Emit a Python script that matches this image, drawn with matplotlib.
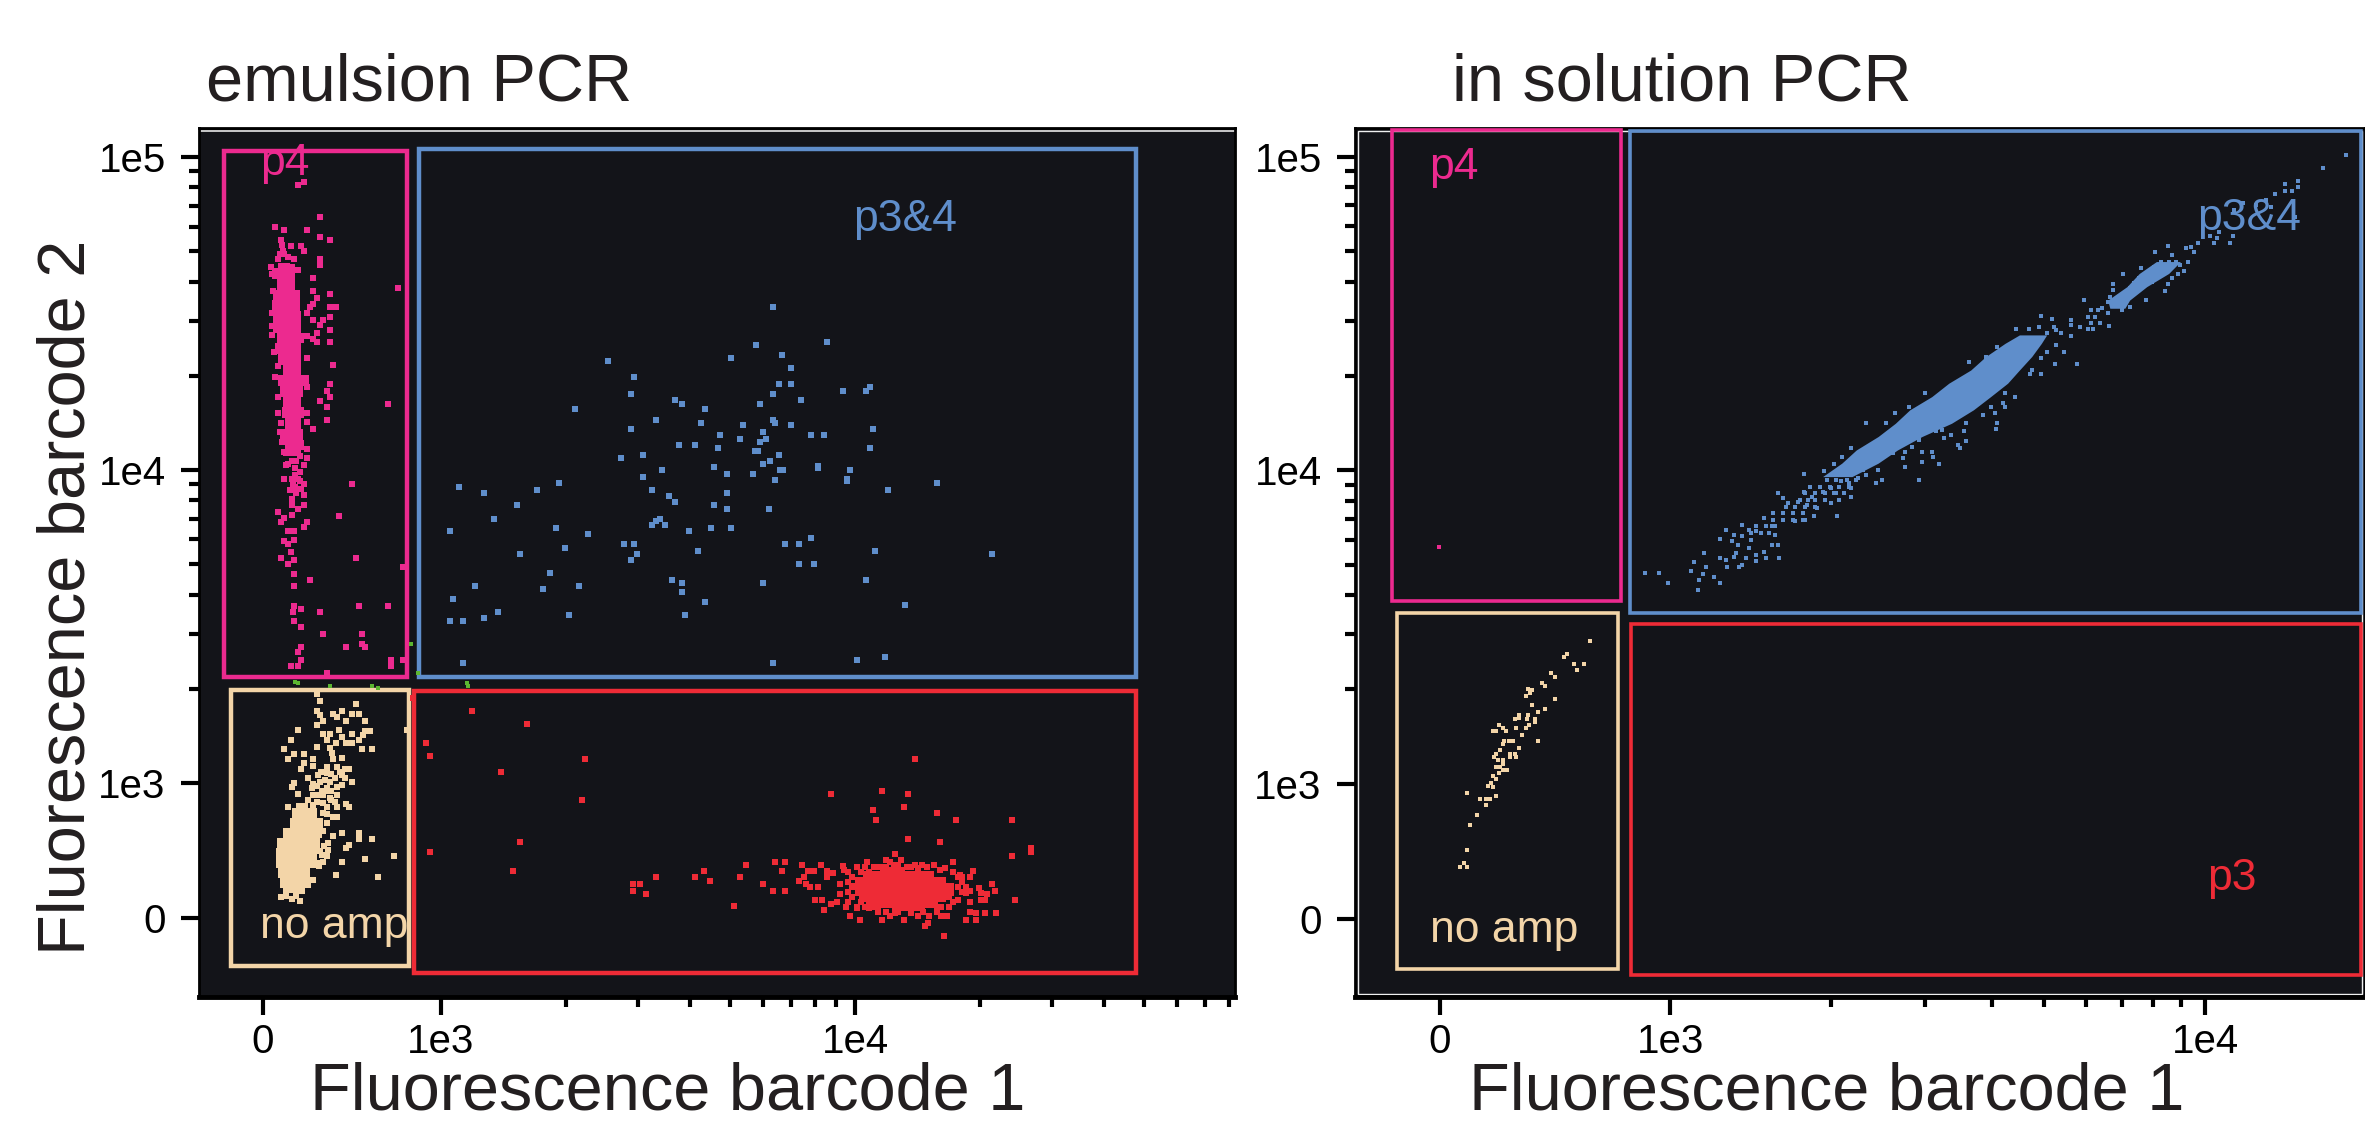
import numpy as np
import matplotlib
matplotlib.use("Agg")
import matplotlib.pyplot as plt
from matplotlib.patches import Rectangle

plt.rcParams['font.family'] = ['Liberation Sans', 'DejaVu Sans']

# All values are on the display (biexponential) scale: log10(intensity) above 1e3,
# linear from 1e3 down to "0".
tick_labels = ['0', '1e3', '1e4', '1e5']
ZERO = 2.57
x_major_values = [ZERO, 3, 4]
y_major_values = [ZERO, 3, 4, 5]
minor_values = [np.log10(m * d) for d in (1e3, 1e4) for m in range(2, 10)]

# --- emulsion PCR ---
em_p34 = [(3.801,4.520),(3.933,4.408),(3.761,4.398),(3.701,4.358),(3.824,4.367),(3.403,4.347),(3.846,4.327),(3.466,4.297),
(3.817,4.275),(3.846,4.275),(4.036,4.266),(4.027,4.253),(3.972,4.253),(3.458,4.244),(3.801,4.244),(3.870,4.224),(3.566,4.224),
(3.582,4.212),(3.770,4.212),(3.324,4.194),(3.637,4.194),(3.519,4.161),(3.801,4.161),(3.808,4.151),(3.629,4.151),(3.729,4.143),
(3.846,4.143),(3.458,4.131),(4.043,4.131),(3.778,4.122),(3.675,4.111),(3.893,4.111),(3.926,4.111),(3.722,4.100),(3.785,4.100),
(3.770,4.091),(3.574,4.080),(3.613,4.080),(3.669,4.071),(4.036,4.071),(3.759,4.060),(3.765,4.060),(3.488,4.049),(3.817,4.049),(3.434,4.040),
(3.794,4.030),(3.778,4.018),(3.910,4.014),(3.910,4.006),(3.659,4.009),(3.535,3.999),(3.819,3.999),(3.825,3.999),(3.988,3.999),(3.691,3.987),
(3.754,3.987),(3.488,3.978),(3.980,3.971),(3.980,3.965),(3.808,3.968),(3.284,3.957),(4.199,3.957),(3.044,3.947),(3.231,3.937),
(3.510,3.937),(4.081,3.937),(3.105,3.926),(3.691,3.926),(3.551,3.917),(3.566,3.897),(3.184,3.888),(3.659,3.888),(3.691,3.876),
(3.793,3.876),(3.129,3.845),(3.528,3.845),(3.519,3.836),(3.510,3.825),(3.542,3.825),(3.278,3.814),(3.652,3.814),(3.701,3.814),
(3.021,3.805),(3.598,3.805),(3.356,3.795),(3.893,3.783),(3.441,3.763),(3.466,3.763),(3.832,3.763),(3.864,3.763),(3.300,3.752),
(3.622,3.742),(4.049,3.742),(3.191,3.732),(3.473,3.732),(4.331,3.732),(3.458,3.711),(3.864,3.701),(3.901,3.701),(3.263,3.670),
(3.559,3.650),(4.027,3.650),(3.582,3.639),(3.778,3.639),(3.082,3.628),(3.333,3.628),(3.247,3.619),(3.582,3.609),(3.028,3.589),
(3.637,3.579),(4.120,3.568),(3.137,3.547),(3.310,3.538),(3.589,3.538),(3.105,3.528),(3.021,3.516),(3.052,3.516),(4.073,3.404),
(4.004,3.393),(3.052,3.383),(3.801,3.383)]

em_p4_core_y = [4.662,4.628,4.593,4.559,4.525,4.491,4.456,4.422,4.388,4.354,4.320,4.285,4.251,4.217,4.183,4.148,4.114,4.080,4.046]
em_p4_core_lo = [2.607,2.591,2.603,2.595,2.593,2.595,2.595,2.603,2.599,2.607,2.618,2.607,2.611,2.618,2.615,2.623,2.611,2.623,2.619]
em_p4_core_hi = [2.635,2.647,2.647,2.659,2.659,2.661,2.663,2.669,2.663,2.663,2.661,2.682,2.666,2.663,2.668,2.663,2.666,2.668,2.663]
em_p4 = [(2.654,4.911),(2.668,4.922),(2.708,4.808),(2.598,4.778),(2.622,4.767),(2.677,4.767),(2.708,4.746),(2.731,4.736),(2.613,4.736),
(2.615,4.719),(2.638,4.716),(2.662,4.715),(2.668,4.701),(2.708,4.674),(2.708,4.654),(2.645,4.674),(2.692,4.613),(2.895,4.582),
(2.692,4.572),(2.731,4.561),(2.701,4.551),(2.692,4.531),(2.684,4.520),(2.731,4.520),(2.747,4.520),(2.677,4.501),(2.731,4.489),
(2.692,4.479),(2.715,4.479),(2.708,4.462),(2.731,4.448),(2.701,4.438),(2.677,4.429),(2.692,4.420),(2.701,4.408),(2.731,4.408),
(2.677,4.357),(2.738,4.337),(2.598,4.297),(2.677,4.266),(2.731,4.274),(2.724,4.254),(2.731,4.234),(2.708,4.222),(2.724,4.203),
(2.873,4.212),(2.677,4.183),(2.724,4.161),(2.677,4.152),(2.692,4.131),(2.677,4.068),(2.677,4.040),(2.668,4.017),(2.785,3.955),
(2.622,3.971),(2.668,3.954),(2.651,3.926),(2.639,3.909),(2.639,3.888),(2.668,3.888),(2.655,3.874),(2.639,3.857),(2.606,3.865),
(2.622,3.846),(2.613,3.835),(2.754,3.854),(2.677,3.835),(2.668,3.817),(2.631,3.804),(2.646,3.804),(2.646,3.777),(2.622,3.772),
(2.631,3.763),(2.794,3.720),(2.638,3.738),(2.613,3.720),(2.646,3.711),(2.631,3.701),(2.909,3.691),(2.646,3.669),(2.684,3.649),
(2.646,3.628),(2.646,3.566),(2.803,3.566),(2.873,3.566),(2.662,3.556),(2.642,3.547),(2.708,3.547),(2.646,3.516),(2.662,3.497),
(2.715,3.475),(2.810,3.475),(2.662,3.435),(2.654,3.418),(2.771,3.435),(2.810,3.443),(2.817,3.435),(2.879,3.393),(2.909,3.393),
(2.662,3.393),(2.638,3.374),(2.654,3.374),(2.879,3.374),(2.724,3.352),(2.589,4.650),(2.591,4.628),(2.595,4.571),(2.591,4.502),
(2.591,4.459),(2.593,4.430),(2.597,4.377),(2.607,4.331),(2.607,4.234),(2.606,4.183),(2.613,4.151),(2.611,4.120),(2.615,4.091),
(2.621,4.057),(2.651,4.029),(2.659,4.046),(2.647,4.006),(2.659,3.994),(2.659,3.966),(2.643,3.954),(2.635,3.937),(2.668,3.920),
(2.610,4.690),(2.622,4.690),(2.630,4.680),(2.618,4.700),(2.606,4.675),(2.640,4.650),(2.655,4.640),(2.648,3.985),(2.655,3.970),
(2.640,3.972),(2.648,3.945),(2.662,3.940),(2.630,4.020),(2.640,4.030),(2.625,4.015)]

em_other = [(2.647,3.324),(2.655,3.321),(2.732,3.310),(2.833,3.310),(2.849,3.302),(3.062,3.318),(3.066,3.310),(2.945,3.350),(2.927,3.444)]

em_amp_core_y = [2.935,2.903,2.871,2.839,2.807,2.775,2.743,2.711,2.679,2.647]
em_amp_core_lo = [2.651,2.639,2.635,2.618,2.603,2.602,2.602,2.607,2.611,2.619]
em_amp_core_hi = [2.680,2.700,2.716,2.712,2.708,2.700,2.700,2.684,2.676,2.663]
em_amp = [(2.701,3.283),(2.708,3.261),(2.794,3.251),(2.701,3.231),(2.708,3.217),(2.762,3.231),(2.786,3.220),(2.803,3.220),(2.740,3.220),
(2.750,3.212),(2.716,3.199),(2.771,3.199),(2.817,3.199),(2.701,3.185),(2.654,3.169),(2.754,3.169),(2.817,3.167),(2.829,3.167),
(2.716,3.157),(2.732,3.157),(2.786,3.157),(2.811,3.153),(2.760,3.148),(2.638,3.137),(2.724,3.137),(2.746,3.127),(2.771,3.127),
(2.786,3.127),(2.802,3.137),(2.700,3.116),(2.732,3.111),(2.622,3.108),(2.810,3.108),(2.833,3.108),(2.646,3.093),(2.668,3.093),
(2.736,3.095),(2.692,3.077),(2.631,3.077),(2.740,3.077),(2.760,3.079),(2.668,3.065),(2.692,3.054),(2.662,3.046),(2.724,3.050),
(2.748,3.050),(2.768,3.046),(2.779,3.046),(2.704,3.026),(2.724,3.031),(2.760,3.026),(2.768,3.015),(2.680,3.015),(2.646,2.999),
(2.786,3.004),(2.692,2.997),(2.708,3.004),(2.732,3.004),(2.760,2.994),(2.639,2.986),(2.688,2.983),(2.724,2.983),(2.748,2.988),
(2.654,2.965),(2.700,2.962),(2.716,2.962),(2.748,2.962),(2.732,2.951),(2.680,2.946),(2.771,2.933),(2.631,2.922),(2.779,2.922),
(2.724,2.924),(2.750,2.924),(2.740,2.892),(2.750,2.892),(2.724,2.871),(2.716,2.845),(2.762,2.841),(2.803,2.841),(2.738,2.829),
(2.803,2.820),(2.833,2.820),(2.728,2.809),(2.779,2.801),(2.771,2.791),(2.708,2.781),(2.728,2.786),(2.724,2.767),(2.887,2.767),
(2.817,2.757),(2.762,2.749),(2.716,2.749),(2.700,2.743),(2.746,2.707),(2.849,2.699),(2.684,2.690),(2.613,2.636),(2.659,2.624),
(2.917,3.169),(2.700,2.990),(2.712,2.975),(2.728,2.975),(2.700,2.940),(2.716,2.935),(2.735,2.945),(2.745,2.940),(2.690,2.960),
(2.720,3.010),(2.745,3.015),(2.735,3.030),(2.755,3.035),(2.710,3.035),(2.715,2.905),(2.725,2.900),(2.690,2.930),(2.735,2.975),
(2.626,2.640),(2.640,2.630),(2.650,2.640),(2.665,2.655),(2.678,2.675),(2.690,2.690),(2.705,2.735),(2.712,2.770),(2.718,2.800)]

em_p3_core_y = [2.730,2.710,2.690,2.670,2.650,2.630,2.610,2.590]
em_p3_core_lo = [4.060,4.020,4.000,3.990,4.000,4.010,4.040,4.090]
em_p3_core_hi = [4.120,4.190,4.220,4.240,4.240,4.220,4.200,4.170]
em_p3 = [(3.074,3.231),(3.208,3.189),(2.965,3.127),(2.973,3.086),(3.348,3.077),(3.145,3.036),(3.341,2.944),(3.192,2.810),(2.973,2.778),
(3.175,2.718),(2.933,3.271),(4.144,3.077),(3.942,2.965),(4.066,2.974),(4.129,2.965),(4.043,2.912),(4.119,2.922),(4.198,2.903),
(4.050,2.882),(4.245,2.882),(4.379,2.882),(4.129,2.820),(4.206,2.810),(4.426,2.791),(4.426,2.778),(4.379,2.768),(4.096,2.772),
(4.075,2.754),(4.111,2.754),(4.238,2.749),(3.808,2.749),(3.831,2.749),(3.738,2.738),(3.636,2.718),(3.519,2.699),(3.613,2.699),
(3.651,2.687),(3.722,2.699),(3.481,2.677),(3.465,2.677),(3.465,2.656),(3.496,2.645),(3.777,2.677),(3.801,2.656),(3.831,2.656),
(3.707,2.606),(3.824,2.718),(3.871,2.738),(3.918,2.738),(3.887,2.718),(3.900,2.718),(3.972,2.735),(4.004,2.733),(4.028,2.749),
(3.974,2.722),(3.933,2.718),(3.948,2.711),(3.933,2.699),(3.877,2.699),(3.864,2.687),(3.882,2.677),(3.892,2.669),(3.910,2.667),
(3.964,2.677),(3.964,2.645),(3.903,2.625),(3.921,2.625),(3.942,2.614),(3.956,2.621),(3.926,2.594),(3.979,2.605),(4.004,2.600),
(4.035,2.600),(3.989,2.574),(4.012,2.563),(4.066,2.563),(4.055,2.594),(4.096,2.584),(4.119,2.563),(4.152,2.574),(4.168,2.543),
(4.177,2.552),(4.215,2.512),(4.208,2.574),(4.223,2.574),(4.228,2.605),(4.197,2.589),(4.269,2.563),(4.292,2.563),(4.277,2.589),
(4.292,2.584),(4.315,2.584),(4.340,2.584),(4.386,2.625),(4.279,2.621),(4.304,2.626),(4.314,2.626),(4.304,2.648),(4.319,2.646),
(4.339,2.656),(4.279,2.656),(4.299,2.663),(4.330,2.677),(4.279,2.699),(4.284,2.718),(4.253,2.706),(4.269,2.648),(4.249,2.626),
(4.217,2.727),(4.192,2.738),(4.206,2.722),(4.162,2.738),(4.152,2.727),(4.126,2.733),(4.075,2.733),
(3.984,2.717),(3.994,2.701),(3.984,2.685),(3.994,2.669),(3.984,2.653),(3.994,2.637),(3.984,2.621),(4.004,2.733),(4.014,2.717),
(4.004,2.605),(4.025,2.733),(4.035,2.717),(4.014,2.621),(4.025,2.605),(4.035,2.621),(4.045,2.733),(4.045,2.605),(4.055,2.589),
(4.208,2.605),(4.197,2.605),(4.238,2.717),(4.238,2.621),(4.228,2.637),(4.249,2.701),(4.249,2.669),(4.259,2.685),(4.259,2.653),
(4.259,2.701),(4.269,2.669),(4.085,2.749),(4.095,2.739),(4.105,2.739),(4.135,2.733),(4.175,2.733),(4.145,2.739),(4.060,2.733),
(4.075,2.589),(4.085,2.574),(4.105,2.589),(4.135,2.584),(4.165,2.589),(4.180,2.574)]

# --- in solution PCR ---
sol_p34_core_y = [4.432,4.405,4.363,4.320,4.278,4.235,4.193,4.150,4.108,4.065,4.023,3.980]
sol_p34_core_lo = [3.653,3.626,3.590,3.562,3.521,3.489,3.448,3.421,3.389,3.348,3.321,3.285]
sol_p34_core_hi = [3.704,3.694,3.676,3.653,3.631,3.599,3.567,3.526,3.471,3.425,3.389,3.340]
sol_p34_upper_y = [4.666,4.628,4.586,4.543,4.517]
sol_p34_upper_lo = [3.909,3.877,3.854,3.818,3.822]
sol_p34_upper_hi = [3.954,3.932,3.891,3.859,3.850]
sol_p34 = [(4.264,5.006),(4.220,4.963),(4.174,4.924),(4.150,4.913),(4.174,4.903),(4.150,4.892),(4.162,4.892),(4.131,4.882),(4.114,4.862),
(4.096,4.846),(4.123,4.839),(4.071,4.852),(4.055,4.830),(4.168,4.809),(4.027,4.761),(4.052,4.748),(4.009,4.748),(4.023,4.740),
(4.016,4.726),(4.047,4.726),(3.986,4.724),(3.931,4.717),(3.964,4.708),(3.973,4.713),(3.907,4.698),(3.980,4.698),(3.938,4.687),
(3.918,4.666),(3.932,4.666),(3.945,4.666),(3.954,4.655),(3.968,4.666),(3.904,4.650),(3.918,4.644),(3.932,4.639),(3.881,4.644),
(3.895,4.628),(3.909,4.628),(3.961,4.636),(3.846,4.626),(3.950,4.626),(3.877,4.613),(3.891,4.613),(3.938,4.615),(3.868,4.597),
(3.881,4.597),(3.900,4.602),(3.828,4.595),(3.931,4.595),(3.859,4.581),(3.872,4.581),(3.828,4.575),(3.925,4.573),(3.850,4.565),
(3.863,4.565),(3.822,4.554),(3.836,4.543),(3.889,4.543),(3.774,4.543),(3.818,4.538),(3.850,4.538),(3.836,4.528),(3.859,4.522),
(3.827,4.528),(3.845,4.512),(3.808,4.517),(3.786,4.512),(3.799,4.512),(3.818,4.503),(3.781,4.490),(3.795,4.490),(3.749,4.480),
(3.713,4.482),(3.694,4.492),(3.804,4.471),(3.786,4.471),(3.749,4.464),(3.767,4.458),(3.781,4.450),(3.790,4.450),(3.821,4.461),
(3.717,4.458),(3.690,4.458),(3.670,4.450),(3.646,4.450),(3.704,4.439),(3.722,4.448),(3.731,4.437),(3.749,4.427),(3.722,4.400),
(3.737,4.379),(3.761,4.338),(3.719,4.338),(3.704,4.379),(3.694,4.357),(3.676,4.320),(3.694,4.306),(3.672,4.306),(3.644,4.235),
(3.626,4.246),(3.622,4.214),(3.608,4.182),(3.626,4.203),(3.612,4.152),(3.610,4.132),(3.585,4.177),(3.599,4.203),(3.553,4.150),
(3.549,4.124),(3.553,4.092),(3.538,4.081),(3.542,4.070),(3.526,4.113),(3.512,4.102),(3.498,4.124),(3.508,4.129),(3.471,4.060),
(3.489,4.060),(3.491,4.042),(3.471,4.028),(3.503,4.019),(3.439,4.060),(3.435,4.039),(3.439,4.010),(3.416,4.055),(3.453,4.076),
(3.466,4.097),(3.389,4.001),(3.366,3.985),(3.396,3.969),(3.384,3.959),(3.352,3.975),(3.465,3.969),(3.334,3.959),(3.339,3.943),
(3.339,3.916),(3.311,3.927),(3.300,3.897),(3.270,3.884),(3.275,3.879),(3.312,3.855),(3.252,3.842),(3.234,3.837),(3.269,3.855),
(3.202,3.927),(3.211,3.911),(3.220,3.895),(3.250,3.989),(3.287,3.999),(3.307,4.019),(3.322,4.044),(3.339,4.070),(3.366,4.152),
(3.403,4.152),(3.421,4.182),(3.446,4.203),(3.476,4.246),(3.558,4.347),(3.590,4.363),(3.612,4.395),(3.135,3.826),(3.105,3.810),
(3.190,3.821),(3.197,3.794),(3.175,3.847),(3.147,3.810),(3.161,3.805),(3.093,3.780),(3.120,3.794),(3.134,3.789),(3.115,3.773),
(3.127,3.762),(3.152,3.778),(3.190,3.762),(3.202,3.762),(3.147,3.752),(3.123,3.736),(3.175,3.741),(3.063,3.736),(3.161,3.730),
(3.093,3.720),(3.105,3.714),(3.120,3.725),(3.141,3.720),(3.179,3.720),(3.203,3.720),(3.161,3.711),(3.045,3.707),(3.068,3.691),
(3.106,3.691),(3.134,3.698),(3.129,3.691),(3.039,3.680),(3.062,3.670),(3.082,3.659),(3.054,3.650),(3.093,3.640),(2.953,3.671),
(2.979,3.671),(2.996,3.640),(3.052,3.619),(3.250,3.930),(3.265,3.915),(3.285,3.930),(3.300,3.945),(3.240,3.900),(3.255,3.890),
(3.320,3.965),(3.335,3.985),(3.360,4.000),(3.375,4.040),(3.395,4.060),(3.410,4.090),
(3.293,3.969),(3.311,3.969),(3.330,3.969),(3.348,3.969),(3.261,3.948),(3.280,3.948),(3.298,3.948),(3.316,3.948),(3.334,3.948),
(3.252,3.927),(3.270,3.927),(3.289,3.927),(3.307,3.927),(3.325,3.927),(3.243,3.906),(3.257,3.906),(3.270,3.906),(3.289,3.906),
(3.316,3.906),(3.216,3.884),(3.234,3.884),(3.252,3.884),(3.193,3.863),(3.211,3.863),(3.229,3.863),(3.248,3.863),(3.193,3.842),
(3.211,3.842),(3.229,3.842),(3.248,3.842),(3.161,3.821),(3.179,3.821),(3.197,3.821),(3.152,3.799),(3.170,3.799),(3.184,3.799)]

sol_amp = [(2.850,3.455),(2.808,3.414),(2.802,3.403),(2.821,3.383),(2.839,3.383),(2.826,3.363),(2.778,3.352),(2.784,3.341),(2.760,3.322),
(2.766,3.312),(2.735,3.301),(2.741,3.299),(2.739,3.290),(2.730,3.281),(2.784,3.271),(2.741,3.250),(2.766,3.240),(2.754,3.229),
(2.735,3.219),(2.717,3.219),(2.710,3.208),(2.718,3.210),(2.732,3.208),(2.748,3.208),(2.748,3.197),(2.681,3.187),(2.687,3.179),
(2.693,3.169),(2.712,3.178),(2.730,3.178),(2.736,3.187),(2.669,3.169),(2.675,3.169),(2.723,3.157),(2.754,3.136),(2.689,3.136),
(2.698,3.136),(2.706,3.136),(2.687,3.126),(2.718,3.115),(2.682,3.107),(2.675,3.096),(2.700,3.096),(2.710,3.096),(2.670,3.085),
(2.700,3.085),(2.712,3.085),(2.679,3.075),(2.687,3.075),(2.687,3.064),(2.675,3.055),(2.682,3.055),(2.695,3.043),(2.687,3.043),
(2.681,3.034),(2.669,3.025),(2.675,3.014),(2.665,3.003),(2.660,2.994),(2.669,2.991),(2.620,2.971),(2.675,2.962),(2.645,2.951),
(2.656,2.951),(2.664,2.951),(2.656,2.933),(2.639,2.900),(2.626,2.870),(2.620,2.788),(2.614,2.747),(2.608,2.736),(2.620,2.736)]
sol_p4 = [(2.568,3.756)]

COLORS = dict(p4='#ec2a8f', p34='#5f8ecb', amp='#f3d5a8', p3='#ee2b36', other='#5cb531', bg='#131419', ink='#231f20')

fig = plt.figure(figsize=(23.65, 11.24), dpi=100, facecolor='white')
W, H = 2365.0, 1124.0


def make_axes(x0, x1, y_top, y_bot):
    return fig.add_axes([x0 / W, 1 - y_bot / H, (x1 - x0) / W, (y_bot - y_top) / H])


def pts(ax, data, color, size):
    arr = np.array(data)
    ax.scatter(arr[:, 0], arr[:, 1], s=size, marker='s', c=color, linewidths=0, zorder=4)


def core(ax, y, lo, hi, color, step='mid'):
    ax.fill_betweenx(y, lo, hi, color=color, linewidth=0, zorder=4, step=step)


def gate(ax, x0, x1, y0, y1, color, lw):
    ax.add_patch(Rectangle((x0, y0), x1 - x0, y1 - y0, fill=False, edgecolor=color, linewidth=lw,
                           joinstyle='miter', zorder=3))


def style(ax, xlim, ylim, title, title_x, xlabel, label_x):
    ax.set_facecolor(COLORS['bg'])
    ax.set_xlim(*xlim)
    ax.set_ylim(*ylim)
    ax.set_xticks(x_major_values)
    ax.set_xticklabels(tick_labels[:3])
    ax.set_yticks(y_major_values)
    ax.set_yticklabels(tick_labels)
    ax.set_xticks([m for m in minor_values if xlim[0] < m < xlim[1]], minor=True)
    ax.set_yticks([m for m in minor_values if ylim[0] < m < ylim[1]], minor=True)
    ax.tick_params(which='major', length=13, width=3.0, labelsize=29, color='black', labelcolor='black', pad=11)
    ax.tick_params(which='minor', length=7.2, width=3.0, color='black')
    ax.tick_params(axis='x', which='major', pad=6)
    for s in ax.spines.values():
        s.set_color('black')
        s.set_linewidth(2.0)
    ax.spines['bottom'].set_linewidth(3.5)
    ax.set_title(title, loc='left', x=title_x, y=1.032, fontsize=48, color=COLORS['ink'], pad=0)
    ax.set_xlabel(xlabel, fontsize=48, color=COLORS['ink'], va='baseline')
    ax.xaxis.set_label_coords(label_x, -0.130)


# Left panel
ax1 = make_axes(199, 1235, 128, 997)
style(ax1, (2.4155, 4.918), (2.316, 5.093), 'emulsion PCR', 0.0068, 'Fluorescence barcode 1', 0.452)
ax1.set_ylabel('Fluorescence barcode 2', fontsize=48, color=COLORS['ink'], va='baseline')
ax1.yaxis.set_label_coords(-0.111, 0.46)
ax1.axhline(5.083, color='#e8e8e8', lw=1.2, zorder=2)

gate(ax1, 2.476, 2.918, 3.339, 5.019, COLORS['p4'], 3.2)
gate(ax1, 2.947, 4.679, 3.339, 5.026, COLORS['p34'], 3.2)
gate(ax1, 2.493, 2.923, 2.415, 3.297, COLORS['amp'], 3.2)
gate(ax1, 2.935, 4.679, 2.393, 3.294, COLORS['p3'], 3.2)

S1 = 14.0
core(ax1, em_p4_core_y, em_p4_core_lo, em_p4_core_hi, COLORS['p4'])
core(ax1, em_amp_core_y, em_amp_core_lo, em_amp_core_hi, COLORS['amp'])
core(ax1, em_p3_core_y, em_p3_core_lo, em_p3_core_hi, COLORS['p3'])
pts(ax1, em_p4, COLORS['p4'], S1)
pts(ax1, em_p34, COLORS['p34'], S1)
pts(ax1, em_amp, COLORS['amp'], S1)
pts(ax1, em_p3, COLORS['p3'], S1)
pts(ax1, em_other, COLORS['other'], 8)

ax1.text(2.564, 4.943, 'p4', color=COLORS['p4'], fontsize=32, va='baseline', zorder=5)
ax1.text(3.996, 4.764, 'p3&4', color=COLORS['p34'], fontsize=32, va='baseline', zorder=5)
ax1.text(2.564, 2.505, 'no amp', color=COLORS['amp'], fontsize=32, va='baseline', zorder=5)

# Right panel
ax2 = make_axes(1355, 2365, 128, 997)
style(ax2, (2.411, 4.299), (2.320, 5.092), 'in solution PCR', 0.096, 'Fluorescence barcode 1', 0.467)
ax2.add_patch(Rectangle((0.0025, 0.0035), 0.995, 0.993, transform=ax2.transAxes, fill=False,
                        edgecolor='#f0f0f0', linewidth=1.0, zorder=2))

gate(ax2, 2.480, 2.908, 3.584, 5.086, COLORS['p4'], 2.6)
gate(ax2, 2.925, 4.292, 3.545, 5.083, COLORS['p34'], 2.6)
gate(ax2, 2.490, 2.903, 2.410, 3.545, COLORS['amp'], 2.6)
gate(ax2, 2.927, 4.292, 2.391, 3.510, COLORS['p3'], 2.6)

S2 = 10.0
core(ax2, sol_p34_core_y, sol_p34_core_lo, sol_p34_core_hi, COLORS['p34'], step=None)
core(ax2, sol_p34_upper_y, sol_p34_upper_lo, sol_p34_upper_hi, COLORS['p34'], step=None)
pts(ax2, sol_p34, COLORS['p34'], S2)
pts(ax2, sol_amp, COLORS['amp'], S2)
pts(ax2, sol_p4, COLORS['p4'], S2)

ax2.text(2.549, 4.930, 'p4', color=COLORS['p4'], fontsize=32, va='baseline', zorder=5)
ax2.text(3.986, 4.767, 'p3&4', color=COLORS['p34'], fontsize=32, va='baseline', zorder=5)
ax2.text(4.004, 2.662, 'p3', color=COLORS['p3'], fontsize=32, va='baseline', zorder=5)
ax2.text(2.551, 2.496, 'no amp', color=COLORS['amp'], fontsize=32, va='baseline', zorder=5)

fig.savefig('out.png', dpi=100, facecolor='white')
